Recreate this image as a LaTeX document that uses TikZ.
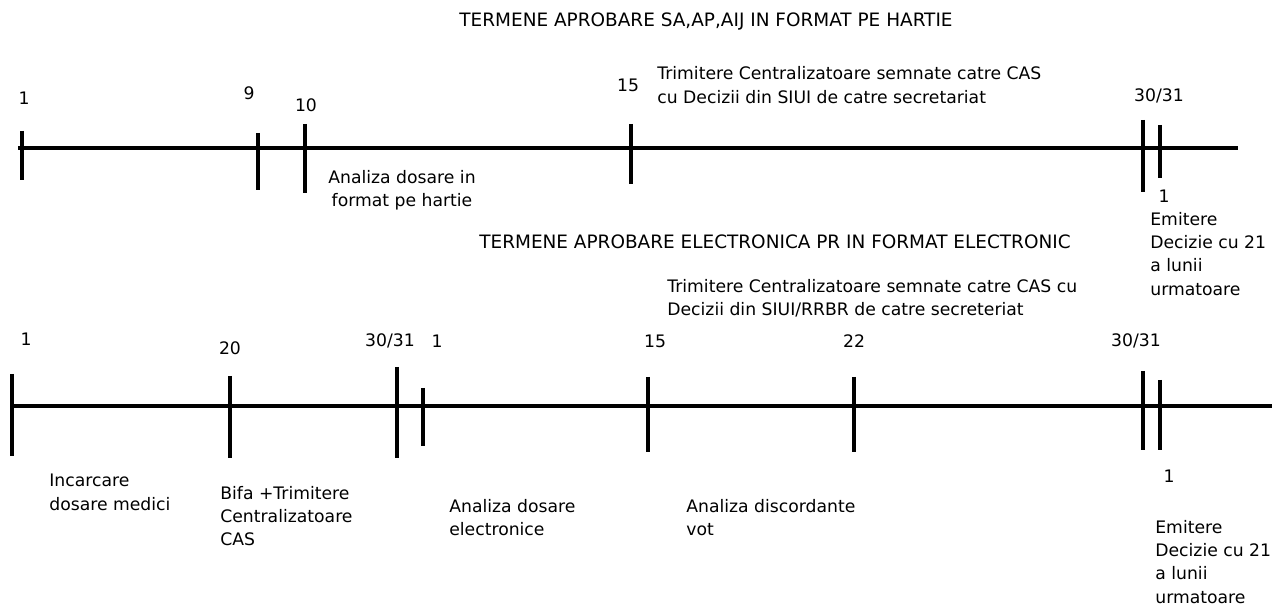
\documentclass[tikz,border=0pt]{standalone}
\usepackage{fontspec}
\setmainfont{DejaVu Sans}
\usetikzlibrary{positioning}
\tikzset{
  axis/.style={black, line width=2.3pt},
  tickline/.style={black, line width=1.9pt},
  lbl/.style={font=\fontsize{9.8}{13.2}\selectfont, inner sep=0pt, align=left},
  lblc/.style={lbl, align=center},
  ttl/.style={font=\fontsize{10.5}{13}\selectfont, inner sep=0pt},
}

\begin{document}
\begin{tikzpicture}[x=0.02cm, y=-0.02cm]
\useasboundingbox (0,0) rectangle (1272,611);

% hartie
\node[ttl] (titleA) at (706,22) {TERMENE APROBARE SA,AP,AIJ IN FORMAT PE HARTIE};
\coordinate (startA) at (18,148);
\coordinate (endA) at (1238,148);
\draw[axis] (startA) -- (endA);
\foreach \x/\ya/\yb in {22/131/180, 258/133/190, 305/124/193, 631/124/184, 1143/120/192, 1160/125/178} {
  \draw[tickline] (\x,\ya) -- (\x,\yb);
}
\node[lbl] (dA1) at (24,98) {1};
\node[lbl] (dA9) at (249,93) {9};
\node[lbl] (dA10) at (306,105) {10};
\node[lbl] (dA15) at (628,85) {15};
\node[lbl] (dA30) at (1159,96) {30/31};
\node[lbl] (dA1b) at (1164,196) {1};
\node[lbl, anchor=west] (trimA) at (657,85) {Trimitere Centralizatoare semnate catre CAS\\cu Decizii din SIUI de catre secretariat};
\node[lblc] (analizaA) at (402,190) {Analiza dosare in\\format pe hartie};
\node[lbl, anchor=north west] (emitA) at (1150,212) {Emitere\\Decizie cu 21\\a lunii\\urmatoare};

% electronic
\node[ttl] (titleB) at (775,242) {TERMENE APROBARE ELECTRONICA PR IN FORMAT ELECTRONIC};
\node[lbl, anchor=west] (trimB) at (667,298) {Trimitere Centralizatoare semnate catre CAS cu\\Decizii din SIUI/RRBR de catre secreteriat};
\coordinate (startB) at (10,406);
\coordinate (endB) at (1272,406);
\draw[axis] (startB) -- (endB);
\foreach \x/\ya/\yb in {12/374/456, 230/376/458, 397/367/458, 423/388/446, 648/377/452, 854/377/452, 1143/371/450, 1160/380/450} {
  \draw[tickline] (\x,\ya) -- (\x,\yb);
}
\node[lbl] (dB1) at (26,339) {1};
\node[lbl] (dB20) at (230,348) {20};
\node[lbl] (dB30) at (390,341) {30/31};
\node[lbl] (dB1b) at (437,341) {1};
\node[lbl] (dB15) at (655,341) {15};
\node[lbl] (dB22) at (854,341) {22};
\node[lbl] (dB30b) at (1136,341) {30/31};
\node[lbl] (dB1c) at (1169,476) {1};
\node[lbl, anchor=north west] (incB) at (49,474) {Incarcare\\dosare medici};
\node[lbl, anchor=north west] (bifaB) at (220,486) {Bifa +Trimitere\\Centralizatoare\\CAS};
\node[lbl, anchor=north west] (analizaB) at (449,499) {Analiza dosare\\electronice};
\node[lbl, anchor=north west] (discB) at (686,499) {Analiza discordante\\vot};
\node[lbl, anchor=north west] (emitB) at (1155,520) {Emitere\\Decizie cu 21\\a lunii\\urmatoare};
\end{tikzpicture}
\end{document}
